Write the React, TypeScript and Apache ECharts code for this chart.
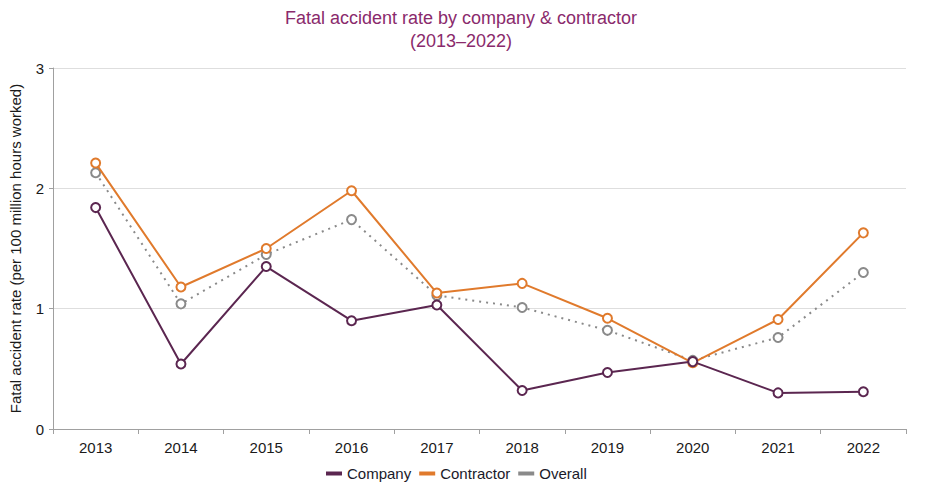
import React, { useEffect, useRef } from "react";
import * as echarts from "echarts";

const years = ["2013", "2014", "2015", "2016", "2017", "2018", "2019", "2020", "2021", "2022"];
const company = [1.84, 0.54, 1.35, 0.9, 1.03, 0.32, 0.47, 0.56, 0.3, 0.31];
const contractor = [2.21, 1.18, 1.5, 1.98, 1.13, 1.21, 0.92, 0.55, 0.91, 1.63];
const overall = [2.13, 1.04, 1.45, 1.74, 1.11, 1.01, 0.82, 0.57, 0.76, 1.3];

const C_COMPANY = "#5b2650";
const C_CONTRACTOR = "#e07a2c";
const C_OVERALL = "#8a8a8a";

export default function App() {
  const ref = useRef<HTMLDivElement>(null);
  useEffect(() => {
    document.body.style.margin = "0";
    if (!ref.current) return;
    const chart = echarts.init(ref.current, undefined, { renderer: "svg" });
    const font = "'Liberation Sans', Arial, sans-serif";
    const mk = (name: string, data: number[], color: string, dotted = false) => ({
      name,
      type: "line",
      data,
      symbol: "circle",
      symbolSize: 9,
      itemStyle: { color: "#ffffff", borderColor: color, borderWidth: 2 },
      lineStyle: { color, width: 2, type: dotted ? [2, 5] : "solid" },
      z: dotted ? 1 : name === "Company" ? 3 : 2,
    });
    chart.setOption({
      animation: false,
      textStyle: { fontFamily: font },
      title: {
        text: "Fatal accident rate by company & contractor\n(2013–2022)",
        left: 456,
        textAlign: "center",
        top: 1,
        textStyle: { color: "#8a2a6c", fontSize: 18, fontWeight: "normal", lineHeight: 23, fontFamily: font },
      },
      legend: {
        bottom: 10,
        left: 321,
        itemWidth: 16,
        itemHeight: 4,
        itemGap: 8,
        icon: "rect",
        textStyle: { color: "#1a1a2a", fontSize: 15, fontFamily: font },
        data: [
          { name: "Company", itemStyle: { color: C_COMPANY, borderWidth: 0 } },
          { name: "Contractor", itemStyle: { color: C_CONTRACTOR, borderWidth: 0 } },
          { name: "Overall", itemStyle: { color: C_OVERALL, borderWidth: 0 } },
        ],
      },
      grid: { left: 49, right: 26, top: 68, bottom: 67 },
      xAxis: {
        type: "category",
        data: years,
        boundaryGap: true,
        axisLine: { lineStyle: { color: "#a0a0a0", width: 1 } },
        axisTick: { show: true, length: 5, lineStyle: { color: "#a0a0a0" } },
        axisLabel: { color: "#1a1a1a", fontSize: 15, margin: 11, fontFamily: font },
      },
      yAxis: {
        type: "value",
        min: 0,
        max: 3,
        interval: 1,
        name: "Fatal accident rate (per 100 million hours worked)",
        nameLocation: "middle",
        nameGap: 30,
        nameRotate: 90,
        nameTextStyle: { color: "#1a1a1a", fontSize: 15, fontFamily: font },
        axisLine: { show: true, lineStyle: { color: "#a0a0a0", width: 1 } },
        axisTick: { show: true, length: 4, lineStyle: { color: "#a0a0a0" } },
        axisLabel: { color: "#1a1a1a", fontSize: 15, margin: 9, fontFamily: font },
        splitLine: { lineStyle: { color: "#dedede", width: 1 } },
      },
      series: [
        mk("Company", company, C_COMPANY),
        mk("Contractor", contractor, C_CONTRACTOR),
        mk("Overall", overall, C_OVERALL, true),
      ],
    });
    return () => chart.dispose();
  }, []);
  return <div ref={ref} style={{ width: 932, height: 496 }} />;
}
